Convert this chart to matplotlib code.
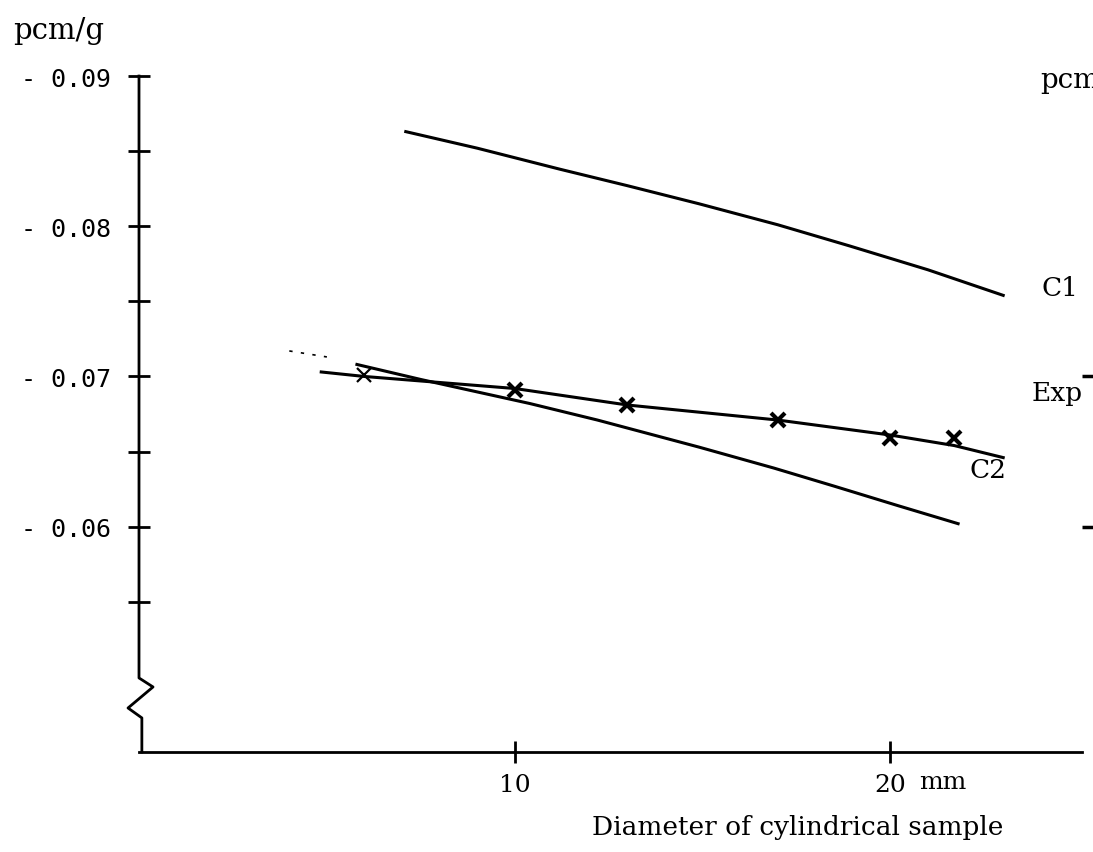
import matplotlib.pyplot as plt
from matplotlib import transforms

# datos (diametro en mm, reactividad en pcm/g)
c1_x = [7.1, 9.0, 11.2, 13.0, 14.9, 17.0, 18.9, 21.0, 23.0]
c1_y = [-0.0863, -0.0852, -0.0838, -0.0827, -0.0815, -0.0801, -0.0787, -0.0771, -0.0754]

c2_x = [5.8, 7.5, 10.4, 12.2, 14.9, 16.9, 18.5, 20.2, 21.8]
c2_y = [-0.0708, -0.0698, -0.0682, -0.0671, -0.0653, -0.0639, -0.0627, -0.0614, -0.0602]

# tramo punteado (extrapolacion de C2)
c2_ext_x = [4.0, 5.0]
c2_ext_y = [-0.0717, -0.0713]

# puntos experimentales
exp_x = [6, 10, 13, 17, 20, 21.7]
exp_y = [-0.0701, -0.0691, -0.0681, -0.0671, -0.0659, -0.0659]

# recta de ajuste experimental
exp_fit_x = [4.85, 6, 10, 13, 17, 20, 21.7, 23.0]
exp_fit_y = [-0.0703, -0.0700, -0.0692, -0.0681, -0.0671, -0.0661, -0.0654, -0.0646]

y_major = [-0.09, -0.08, -0.07, -0.06]
y_major_labels = ['- 0.09', '- 0.08', '- 0.07', '- 0.06']
y_minor = [-0.085, -0.075, -0.065, -0.055]
x_ticks = [10, 20]
x_tick_labels = ['10', '20']
right_ticks = [-0.07, -0.06]

serif = 'DejaVu Serif'
mono = 'DejaVu Sans Mono'

fig = plt.figure(figsize=(10.93, 8.53), dpi=100)
ax = fig.add_axes([139 / 1093, 100 / 853, 954 / 1093, 753 / 853])

# curvas
ax.plot(c1_x, c1_y, color='black', lw=2.2)
ax.plot(c2_x, c2_y, color='black', lw=2.2)
ax.plot(c2_ext_x, c2_ext_y, color='black', lw=1.2, linestyle=(0, (2, 5)))
ax.plot(exp_fit_x, exp_fit_y, color='black', lw=2.2)
ax.plot(exp_x[:1], exp_y[:1], 'x', color='black', ms=10, mew=1.6)
ax.plot(exp_x[1:], exp_y[1:], 'x', color='black', ms=10, mew=3)

# limites (eje y invertido: valores mas negativos arriba)
ax.set_xlim(0, 25.39)
ax.set_ylim(-0.045, -0.09513)

# ejes y marcas
for s in ['top', 'right', 'left']:
    ax.spines[s].set_visible(False)
ax.spines['bottom'].set_bounds(0, 25.1)
ax.spines['bottom'].set_linewidth(2)

# eje izquierdo con corte en zigzag
trans = transforms.blended_transform_factory(ax.transAxes, ax.transData)
ax.plot([0, 0, 0.0147, -0.0115, 0.003, 0.003],
        [-0.09, -0.04993, -0.04933, -0.04793, -0.04727, -0.045],
        color='black', lw=2, transform=trans, clip_on=False)

ax.set_yticks(y_major)
ax.set_yticklabels(y_major_labels, fontfamily=mono, fontsize=18)
ax.set_yticks(y_minor, minor=True)
ax.tick_params(axis='y', which='both', direction='inout', length=16, width=2, pad=12)

ax.set_xticks(x_ticks)
ax.set_xticklabels(x_tick_labels, fontfamily=serif, fontsize=18)
ax.tick_params(axis='x', direction='inout', length=16, width=2, pad=7)

# marcas del eje derecho (cortado por el borde)
ax2 = ax.twinx()
ax2.set_ylim(ax.get_ylim())
ax2.set_yticks(right_ticks)
ax2.set_yticklabels([''] * len(right_ticks))
ax2.tick_params(axis='y', direction='inout', length=16, width=2.5)
for s in ax2.spines.values():
    s.set_visible(False)

# textos
tb = transforms.blended_transform_factory(ax.transData, ax.transAxes)
ax.text(20.75, -0.0398, 'mm', transform=tb, fontfamily=serif, fontsize=18,
        ha='left', va='center')
ax.set_xlabel('Diameter of cylindrical sample', fontfamily=serif, fontsize=19)
ax.xaxis.set_label_coords(0.69, -0.0996)
ax.xaxis.label.set_va('center')

ax.text(24.03, -0.0759, 'C1', fontfamily=serif, fontsize=19, va='center')
ax.text(23.76, -0.0689, 'Exp', fontfamily=serif, fontsize=19, va='center')
ax.text(22.11, -0.0638, 'C2', fontfamily=serif, fontsize=19, va='center')

fig.text(13 / 1093, 1 - 31 / 853, 'pcm/g', fontfamily=serif, fontsize=21, va='center')
fig.text(1040 / 1093, 1 - 80 / 853, 'pcm', fontfamily=serif, fontsize=20, va='center')

fig.savefig('out.png', dpi=100)
